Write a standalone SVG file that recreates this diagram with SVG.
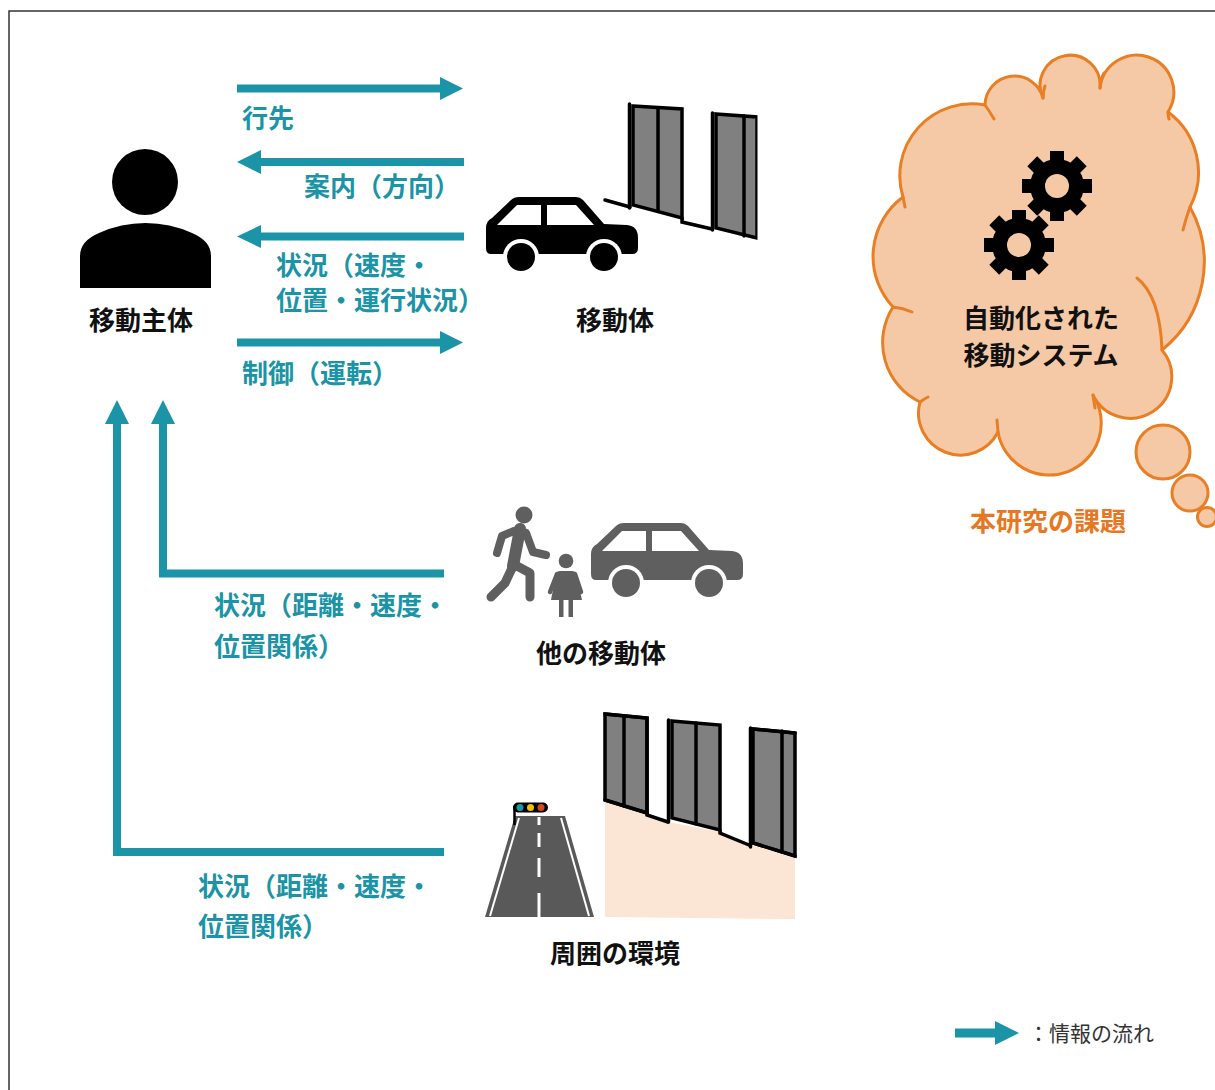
<svg xmlns="http://www.w3.org/2000/svg" width="1215" height="1090" viewBox="0 0 1215 1090">
  <style>
    .lbl { font-family: "Noto Sans CJK JP", "Noto Sans", sans-serif; font-weight: 700; font-size: 26px; }
    .teal { fill: #1a94a6; }
    .blk { fill: #111111; }
    .flow { fill: none; stroke: #1a94a6; stroke-width: 8; }
    .head { fill: #1a94a6; }
    .wall { fill: #808080; stroke: #000; stroke-width: 3.5; stroke-linejoin: miter; }
    .edge { fill: none; stroke: #000; stroke-width: 3.5; stroke-linecap: round; }
    .cloudline { fill: none; stroke: #e97f24; stroke-width: 3; stroke-linecap: round; }
    .walker { fill: none; stroke: #5f5f5f; stroke-linecap: round; stroke-linejoin: round; }
  </style>
  <defs>
    <!-- car silhouette, windows cut out in white -->
    <g id="car">
      <path d="M486 228 Q486 221 492 218 L511 200 Q514 197 519 197 L576 197 Q580 197 583 200 L604 224 L627 225 Q638 226 638 238 L638 248 Q638 254 632 254 L491 254 Q486 254 486 248 Z"/>
      <polygon points="497,225 517,205 541,205 541,225" fill="#fff"/>
      <polygon points="547,205 576,205 594,225 547,225" fill="#fff"/>
      <circle cx="521" cy="257" r="18" fill="#fff"/>
      <circle cx="604" cy="257" r="18" fill="#fff"/>
      <circle cx="521" cy="257" r="14"/>
      <circle cx="604" cy="257" r="14"/>
    </g>
    <!-- eight-tooth gear, hole filled with the cloud colour -->
    <g id="gear">
      <circle r="27" fill="#000"/>
      <g fill="#000">
        <rect x="-7" y="-35" width="14" height="12"/>
        <rect x="-7" y="-35" width="14" height="12" transform="rotate(45)"/>
        <rect x="-7" y="-35" width="14" height="12" transform="rotate(90)"/>
        <rect x="-7" y="-35" width="14" height="12" transform="rotate(135)"/>
        <rect x="-7" y="-35" width="14" height="12" transform="rotate(180)"/>
        <rect x="-7" y="-35" width="14" height="12" transform="rotate(225)"/>
        <rect x="-7" y="-35" width="14" height="12" transform="rotate(270)"/>
        <rect x="-7" y="-35" width="14" height="12" transform="rotate(315)"/>
      </g>
      <circle r="12" fill="#f6c9a6"/>
    </g>
  </defs>

  <rect width="1215" height="1090" fill="#fff"/>
  <!-- frame -->
  <path d="M9 1090 L9 11 L1215 11" fill="none" stroke="#333" stroke-width="1.5"/>

  <!-- connectors -->
  <g id="connectors">
    <line class="flow" x1="237" y1="88.5" x2="442" y2="88.5"/>
    <polygon class="head" points="440,77 463,88.5 440,100"/>
    <line class="flow" x1="464" y1="162" x2="259" y2="162"/>
    <polygon class="head" points="261,150 237,162 261,174"/>
    <line class="flow" x1="464" y1="236.5" x2="259" y2="236.5"/>
    <polygon class="head" points="261,225 237,236.5 261,248"/>
    <line class="flow" x1="237" y1="342.5" x2="442" y2="342.5"/>
    <polygon class="head" points="440,331 463,342.5 440,354"/>

    <polyline class="flow" points="444,573.5 163,573.5 163,422" stroke-linejoin="miter"/>
    <polygon class="head" points="151,424 163,400 175,424"/>
    <polyline class="flow" points="444,852 117,852 117,422" stroke-linejoin="miter"/>
    <polygon class="head" points="105,424 117,400 129,424"/>

    <text class="lbl teal" x="242" y="128">行先</text>
    <text class="lbl teal" x="304" y="196">案内（方向）</text>
    <text class="lbl teal" x="276" y="275">状況（速度・</text>
    <text class="lbl teal" x="276" y="310">位置・運行状況）</text>
    <text class="lbl teal" x="242" y="383">制御（運転）</text>
    <text class="lbl teal" x="214" y="615">状況（距離・速度・</text>
    <text class="lbl teal" x="214" y="656">位置関係）</text>
    <text class="lbl teal" x="198" y="896">状況（距離・速度・</text>
    <text class="lbl teal" x="198" y="936">位置関係）</text>
  </g>

  <!-- person operating the vehicle -->
  <g id="subject">
    <circle cx="145" cy="182" r="33" fill="#000"/>
    <path d="M80 288 L80 256 Q80 241 99 233 Q121 223 145.5 223 Q170 223 192 233 Q211 241 211 256 L211 288 Z" fill="#000"/>
    <text class="lbl blk" x="141" y="330" text-anchor="middle">移動主体</text>
  </g>

  <!-- vehicle with gate -->
  <g id="vehicle">
    <polygon class="wall" points="633,106 682,109 682,218 633,205"/>
    <line class="edge" x1="629.5" y1="104" x2="629.5" y2="208"/>
    <line class="edge" x1="658" y1="108" x2="658" y2="211"/>
    <polyline class="edge" points="605,200 630,207"/>
    <polyline class="edge" points="682,218 682,222 712,229"/>
    <polygon class="wall" points="716,114 757,117 757,238 716,228"/>
    <line class="edge" x1="712.5" y1="113" x2="712.5" y2="230"/>
    <line class="edge" x1="744" y1="116" x2="744" y2="236"/>
    <rect x="757.5" y="110" width="6" height="135" fill="#fff"/>
    <use href="#car" fill="#000"/>
    <text class="lbl blk" x="615" y="330" text-anchor="middle">移動体</text>
  </g>

  <!-- other road users -->
  <g id="others">
    <circle cx="524" cy="515" r="8.5" fill="#5f5f5f"/>
    <polyline class="walker" stroke-width="12" points="520,529 513,566"/>
    <polyline class="walker" stroke-width="8" points="514,531 502,536 497,553"/>
    <polyline class="walker" stroke-width="8" points="526,533 533,552 546,555"/>
    <polyline class="walker" stroke-width="9" points="513,566 505,583 491,597"/>
    <polyline class="walker" stroke-width="9" points="517,566 530,573 530,597"/>

    <circle cx="566" cy="561" r="7.3" fill="#5f5f5f"/>
    <path d="M560 571 L572 571 Q575 571 576 574 L582 600 L551 600 L556 574 Q557 571 560 571 Z" fill="#5f5f5f"/>
    <polyline class="walker" stroke-width="4.5" points="557,574 550,592"/>
    <polyline class="walker" stroke-width="4.5" points="575,574 581,592"/>
    <rect x="559" y="600" width="4.5" height="17" fill="#5f5f5f"/>
    <rect x="568.5" y="600" width="4.5" height="17" fill="#5f5f5f"/>

    <use href="#car" fill="#5f5f5f" transform="translate(105 326)"/>
    <text class="lbl blk" x="601" y="663" text-anchor="middle">他の移動体</text>
  </g>

  <!-- surroundings: road, signal, walls -->
  <g id="environment">
    <polygon points="605,800 647,813 668,822 720,832 749,845 795,856 795,919 605,917" fill="#fbe5d4"/>
    <polygon class="wall" points="605,714 647,718 647,813 605,800" stroke="none"/>
    <polyline class="edge" points="605,714 647,718 647,815 668,822"/>
    <line class="edge" x1="605" y1="800" x2="647" y2="813"/>
    <line class="edge" x1="624" y1="716" x2="624" y2="806"/>
    <polygon class="wall" points="672,721 720,725 720,830 672,818"/>
    <line class="edge" x1="668.5" y1="720" x2="668.5" y2="822"/>
    <line class="edge" x1="696" y1="723" x2="696" y2="824"/>
    <polyline class="edge" points="720,830 720,833 749,845"/>
    <polygon class="wall" points="753,729 795,733 795,856 753,843" stroke="none"/>
    <polyline class="edge" points="753,729 795,733"/>
    <polyline class="edge" points="753,843 795,856"/>
    <line class="edge" x1="750.5" y1="728" x2="750.5" y2="847"/>
    <line class="edge" x1="782" y1="731" x2="782" y2="852"/>

    <polygon points="515,816 565,816 594,917 485,917" fill="#595959"/>
    <line x1="519" y1="818" x2="490" y2="916" stroke="#fff" stroke-width="2"/>
    <line x1="561" y1="818" x2="589" y2="916" stroke="#fff" stroke-width="2"/>
    <g stroke="#fff" stroke-width="3">
      <line x1="539" y1="817" x2="539" y2="825"/>
      <line x1="539" y1="833" x2="539" y2="847"/>
      <line x1="539" y1="858" x2="539" y2="877"/>
      <line x1="539" y1="893" x2="539" y2="917"/>
    </g>
    <line x1="514.5" y1="806" x2="514.5" y2="825" stroke="#000" stroke-width="2.5"/>
    <rect x="513" y="802.5" width="35" height="10" rx="5" fill="#000"/>
    <circle cx="520" cy="807.5" r="3.5" fill="#1a9a9a"/>
    <circle cx="530.5" cy="807.5" r="3.5" fill="#f2c200"/>
    <circle cx="541" cy="807.5" r="3.5" fill="#d8471c"/>
    <text class="lbl blk" x="615" y="963" text-anchor="middle">周囲の環境</text>
  </g>

  <!-- thought cloud: the automated mobility system -->
  <g id="research-topic">
    <path d="M920 402 A66 66 0 0 1 893 307 A74 74 0 0 1 903 197 A72 72 0 0 1 985 105 A29.5 29.5 0 0 1 1043 98 A30 30 0 1 1 1100 88 A37 37 0 1 1 1168 112 A75 75 0 0 1 1190 207 A113 113 0 0 1 1162 350 A41.5 41.5 0 1 1 1093 395 A52 52 0 1 1 998 432 A42 42 0 0 1 920 402 Z" fill="#f6c9a6" stroke="#e97f24" stroke-width="3" stroke-linejoin="round"/>
    <path class="cloudline" d="M985 105 Q990 112 994 119 M1043 98 Q1043 92 1045 86 M1100 88 Q1100 80 1104 73 M1168 112 Q1168 116 1169 119 M1190 207 Q1186 218 1183 230 M1137 278 Q1160 296 1162 350 M1093 395 Q1094 402 1095 408 M997 420 L998 432 M920 402 Q924 399 928 397 M893 307 Q903 308 912 312 M903 197 Q904 202 905 207"/>
    <circle cx="1163" cy="452" r="27" fill="#f6c9a6" stroke="#e97f24" stroke-width="3"/>
    <circle cx="1190" cy="493" r="18" fill="#f6c9a6" stroke="#e97f24" stroke-width="3"/>
    <circle cx="1207" cy="517" r="9.5" fill="#f6c9a6" stroke="#e97f24" stroke-width="3"/>
    <use href="#gear" transform="translate(1057 186)"/>
    <use href="#gear" transform="translate(1019 245)"/>
    <text class="lbl blk" x="1041" y="328" text-anchor="middle">自動化された</text>
    <text class="lbl blk" x="1041" y="365" text-anchor="middle">移動システム</text>
    <text class="lbl" x="1048" y="531" text-anchor="middle" fill="#e87722">本研究の課題</text>
  </g>

  <!-- legend -->
  <g id="legend">
    <line x1="955" y1="1033" x2="997" y2="1033" stroke="#1a94a6" stroke-width="9"/>
    <polygon points="995,1021 1019,1033 995,1045" fill="#1a94a6"/>
    <text x="1028" y="1041" font-family="Noto Sans CJK JP, sans-serif" font-size="21" fill="#333">：情報の流れ</text>
  </g>
</svg>
